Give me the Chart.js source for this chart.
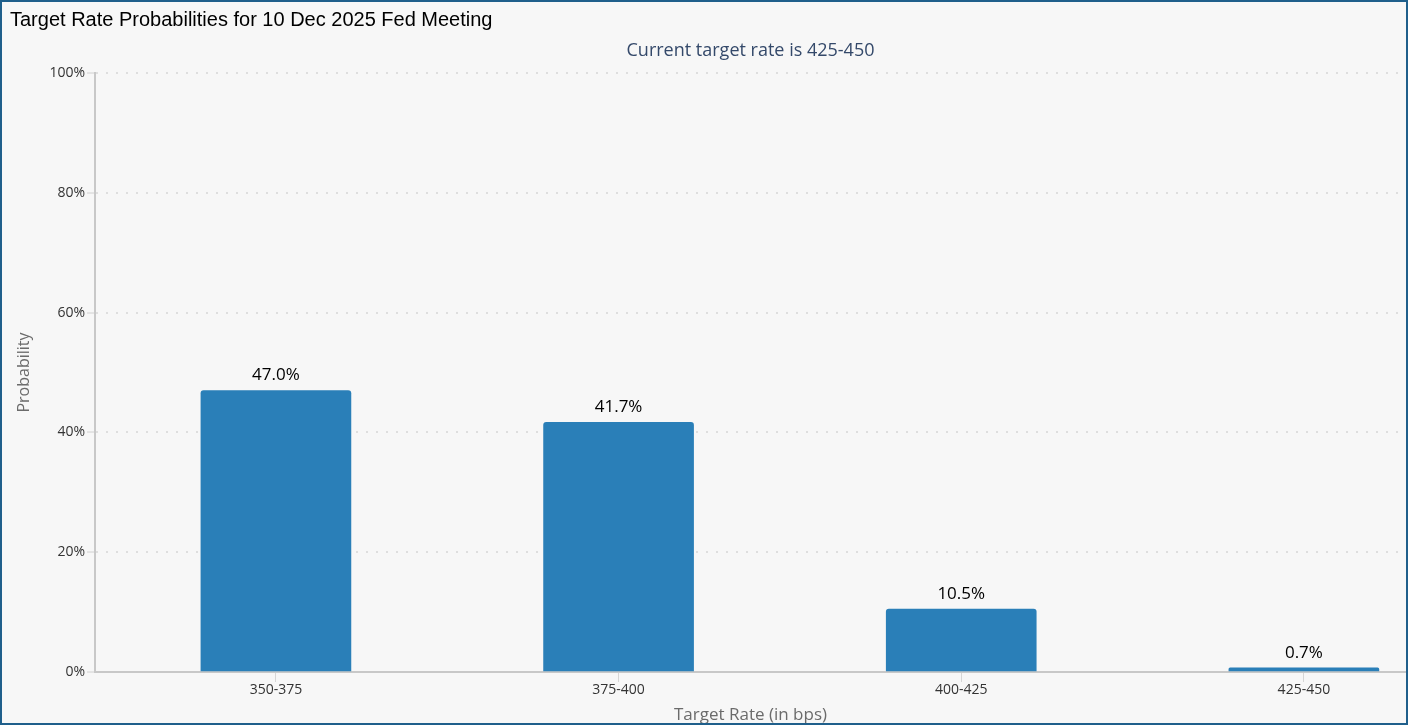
<!DOCTYPE html>
<html>
<head>
<meta charset="utf-8">
<style>
  html, body { margin: 0; padding: 0; background: #f7f7f7; }
  .frame {
    width: 1408px; height: 725px; box-sizing: border-box;
    border: 2px solid #1f5f8b; background: #f7f7f7; position: relative;
  }
  .frame canvas { display: block; }
</style>
</head>
<body>
<div class="frame">
  <canvas id="rateChart" width="1404" height="721"></canvas>
</div>

<script src="https://cdn.jsdelivr.net/npm/chart.js"></script>
<script>
// Chart data
const CATEGORIES = ['350-375', '375-400', '400-425', '425-450'];
const PROBABILITIES = [47.0, 41.7, 10.5, 0.7];
const Y_TICKS = [0, 20, 40, 60, 80, 100];

const CHART_TITLE = 'Target Rate Probabilities for 10 Dec 2025 Fed Meeting';
const CHART_SUBTITLE = 'Current target rate is 425-450';

// Titles + value labels drawn on top of the chart
const labelPlugin = {
    id: 'labels',
    afterDatasetsDraw(chart) {
        const { ctx, chartArea } = chart;
        ctx.save();
        ctx.textBaseline = 'middle';

        ctx.fillStyle = '#000000';
        ctx.font = '20px "Liberation Sans", Arial, sans-serif';
        ctx.textAlign = 'left';
        ctx.fillText(CHART_TITLE, 8, 18);

        ctx.fillStyle = '#34496a';
        ctx.font = '18px "Open Sans", sans-serif';
        ctx.textAlign = 'center';
        ctx.fillText(CHART_SUBTITLE, (chartArea.left + chartArea.right) / 2, 49);

        const meta = chart.getDatasetMeta(0);
        ctx.fillStyle = '#000000';
        ctx.font = '17px "Open Sans", sans-serif';
        meta.data.forEach((bar, i) => {
            ctx.fillText(PROBABILITIES[i].toFixed(1) + '%', bar.x, bar.y - 15);
        });
        ctx.restore();
    }
};

const ctx = document.getElementById('rateChart').getContext('2d');
const chart = new Chart(ctx, {
    type: 'bar',
    data: {
        datasets: [{
            label: 'Probability',
            data: CATEGORIES.map((c, i) => ({ x: i, y: PROBABILITIES[i] })),
            backgroundColor: '#2a7fb8',
            borderWidth: 0,
            borderRadius: { topLeft: 3, topRight: 3, bottomLeft: 0, bottomRight: 0 },
            barThickness: 150
        }]
    },
    options: {
        responsive: false,
        animation: false,
        layout: {
            padding: { top: 71, right: 0, bottom: 0, left: 0 }
        },
        plugins: {
            legend: { display: false },
            title: { display: false },
            tooltip: { enabled: false }
        },
        scales: {
            x: {
                type: 'linear',
                offset: false,
                min: -0.528,
                max: 3.298,
                afterBuildTicks(scale) {
                    scale.ticks = CATEGORIES.map((c, i) => ({ value: i }));
                },
                afterFit(scale) { scale.height = 51; },
                ticks: {
                    color: '#333333',
                    padding: 0,
                    font: { family: '"Open Sans", sans-serif', size: 14 },
                    callback: function(value) { return CATEGORIES[value]; }
                },
                grid: {
                    offset: false,
                    drawOnChartArea: false,
                    tickLength: 10,
                    tickColor: '#d6d6d6',
                    tickWidth: 1
                },
                border: { color: '#c8c8c8', width: 2 },
                title: {
                    display: true,
                    text: 'Target Rate (in bps)',
                    color: '#6b6b6b',
                    padding: { top: 0, bottom: -2 },
                    font: { family: '"Open Sans", sans-serif', size: 17 }
                }
            },
            y: {
                min: 0,
                max: 100,
                afterBuildTicks(scale) {
                    scale.ticks = Y_TICKS.map(v => ({ value: v }));
                },
                afterFit(scale) { scale.width = 93; },
                ticks: {
                    color: '#333333',
                    padding: 2,
                    font: { family: '"Open Sans", sans-serif', size: 14 },
                    callback: function(value) { return value + '%'; }
                },
                grid: {
                    color: '#dedede',
                    lineWidth: 2,
                    tickLength: 8,
                    tickColor: '#d0d0d0',
                    tickWidth: 1,
                    tickBorderDash: []
                },
                border: { color: '#c8c8c8', width: 2, dash: [2, 8] },
                title: {
                    display: true,
                    text: 'Probability',
                    color: '#6b6b6b',
                    padding: 13,
                    font: { family: '"Open Sans", sans-serif', size: 16 }
                }
            }
        }
    },
    plugins: [labelPlugin]
});
</script>
</body>
</html>
